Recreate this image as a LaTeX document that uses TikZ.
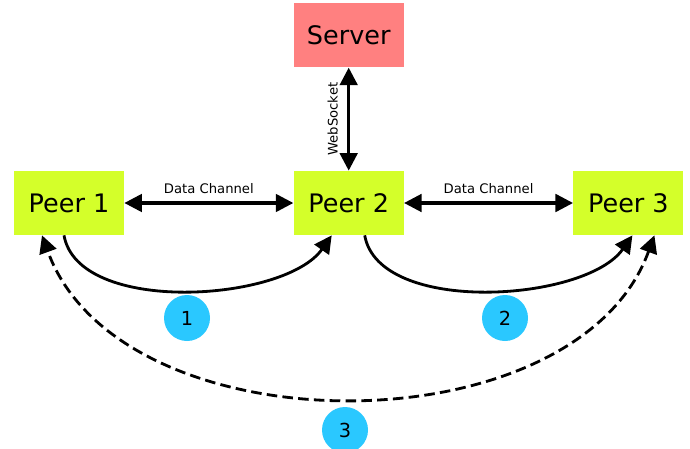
\documentclass[tikz,border=0pt]{standalone}
\usepackage{fontspec}
\setmainfont{DejaVu Sans}
\usetikzlibrary{arrows.meta, positioning}
\definecolor{serverred}{HTML}{FF8080}
\definecolor{peerlime}{HTML}{D4FF2A}
\definecolor{badgeblue}{HTML}{2AC8FF}

\tikzset{
  peerbox/.style={fill=peerlime, minimum width=2.2cm, minimum height=1.28cm, inner sep=0pt, font=\fontsize{14.5}{14.5}\selectfont},
  serverbox/.style={peerbox, fill=serverred},
  badge/.style={circle, fill=badgeblue, minimum size=0.92cm, inner sep=0pt, font=\fontsize{11}{11}\selectfont},
  link/.style={line width=1.8pt, {Triangle[length=10pt,width=10pt]}-{Triangle[length=10pt,width=10pt]}},
  hop/.style={line width=1.6pt, -{Triangle[length=10pt,width=10pt]}},
  relay/.style={link, line width=1.6pt, dash pattern=on 6pt off 3pt},
  tag/.style={font=\fontsize{7.5}{7.5}\selectfont}
}

\begin{document}
\begin{tikzpicture}
  \useasboundingbox (0,0) rectangle (13.8,-8.98);

  % Peers in one row, server above the middle one
  \node[peerbox] (peer1) at (1.38,-4.06) {Peer 1};
  \node[peerbox, right=3.38cm of peer1] (peer2) {Peer 2};
  \node[peerbox, right=3.38cm of peer2] (peer3) {Peer 3};
  \node[serverbox, above=2.06cm of peer2] (server) {Server};

  % Signalling and data channels
  \draw[link] (peer2.north) -- node[midway, above=2pt, sloped, tag] {WebSocket} (server.south);
  \draw[link] (peer1.east) -- node[above=1pt, tag] {Data Channel} (peer2.west);
  \draw[link] (peer2.east) -- node[above=1pt, tag] {Data Channel} (peer3.west);

  % Hops between neighbours
  \draw[hop] ([xshift=-0.1cm]peer1.south) to[out=-80, in=-125, looseness=0.78] ([xshift=-0.34cm]peer2.south);
  \draw[hop] ([xshift=0.32cm]peer2.south) to[out=-80, in=-125, looseness=0.78] ([xshift=0.08cm]peer3.south);

  % Relay from the last peer back to the first
  \draw[relay] ([xshift=0.52cm]peer3.south) to[out=-110, in=-70, looseness=0.96] ([xshift=-0.54cm]peer1.south);

  % Step badges
  \node[badge] (step1) at (3.74,-6.36) {1};
  \node[badge] (step2) at (10.1,-6.36) {2};
  \node[badge] (step3) at (6.9,-8.6) {3};
\end{tikzpicture}
\end{document}
